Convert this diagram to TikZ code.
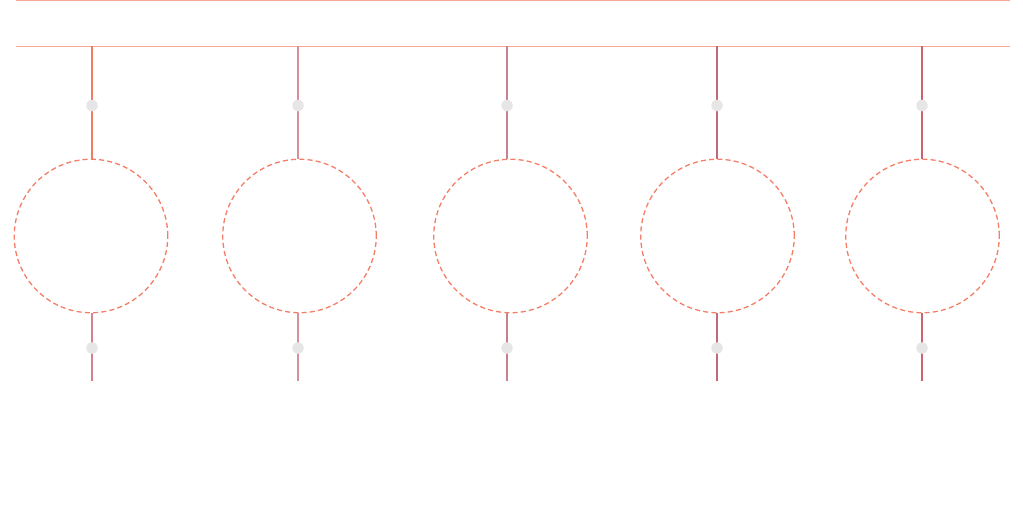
\documentclass[tikz,border=0pt]{standalone}
\begin{document}
\begin{tikzpicture}[x=0.75pt,y=-0.75pt,
  bus/.style={draw=busc,line width=1.0pt*0.75},
  ring/.style={circle,draw=ringc,dash pattern=on 3.8pt off 2.4pt,line width=1.3*0.75pt,minimum size=153.5*0.75pt,inner sep=0pt},
  dotn/.style={circle,fill=dotc,minimum size=11.5*0.75pt,inner sep=0pt},
  wire/.style={line width=1.1*0.75pt}]
\definecolor{busc}{HTML}{F9A896}
\definecolor{ringc}{HTML}{F47E66}
\definecolor{dotc}{HTML}{E6E6E6}
\definecolor{w1}{HTML}{F07A62}
\definecolor{w2}{HTML}{D98E9C}
\definecolor{w3}{HTML}{C98090}
\definecolor{w4}{HTML}{C06A78}
\definecolor{w5}{HTML}{CC6470}
\definecolor{b1}{HTML}{D8808E}
\definecolor{b2}{HTML}{D8909C}
\definecolor{b3}{HTML}{C8808E}
\definecolor{b4}{HTML}{C06A78}
\definecolor{b5}{HTML}{CC6470}
\useasboundingbox (0,0) rectangle (1023,504);
\coordinate (busAL) at (16,0.6);
\coordinate (busAR) at (1010,0.6);
\coordinate (busBL) at (16,46);
\coordinate (busBR) at (1010,46);
\draw[bus] (busAL) -- (busAR);
\draw[bus] (busBL) -- (busBR);
\foreach \i/\lx/\cx/\wc/\bc in {1/92/91/w1/b1,2/298/299.5/w2/b2,3/507/510.5/w3/b3,4/717/717.5/w4/b4,5/922/922.5/w5/b5}{
  \node[ring] (c\i) at (\cx,236) {};
  \coordinate (t\i) at (\lx,46);
  \coordinate (e\i) at (\lx,381);
  \draw[wire,draw=\wc] (t\i) -- (t\i |- c\i.north);
  \draw[wire,draw=\bc] (e\i |- c\i.south) -- (e\i);
  \node[dotn] (u\i) at (\lx,105.5) {};
  \node[dotn] (d\i) at (\lx,348) {};
}
\end{tikzpicture}
\end{document}
